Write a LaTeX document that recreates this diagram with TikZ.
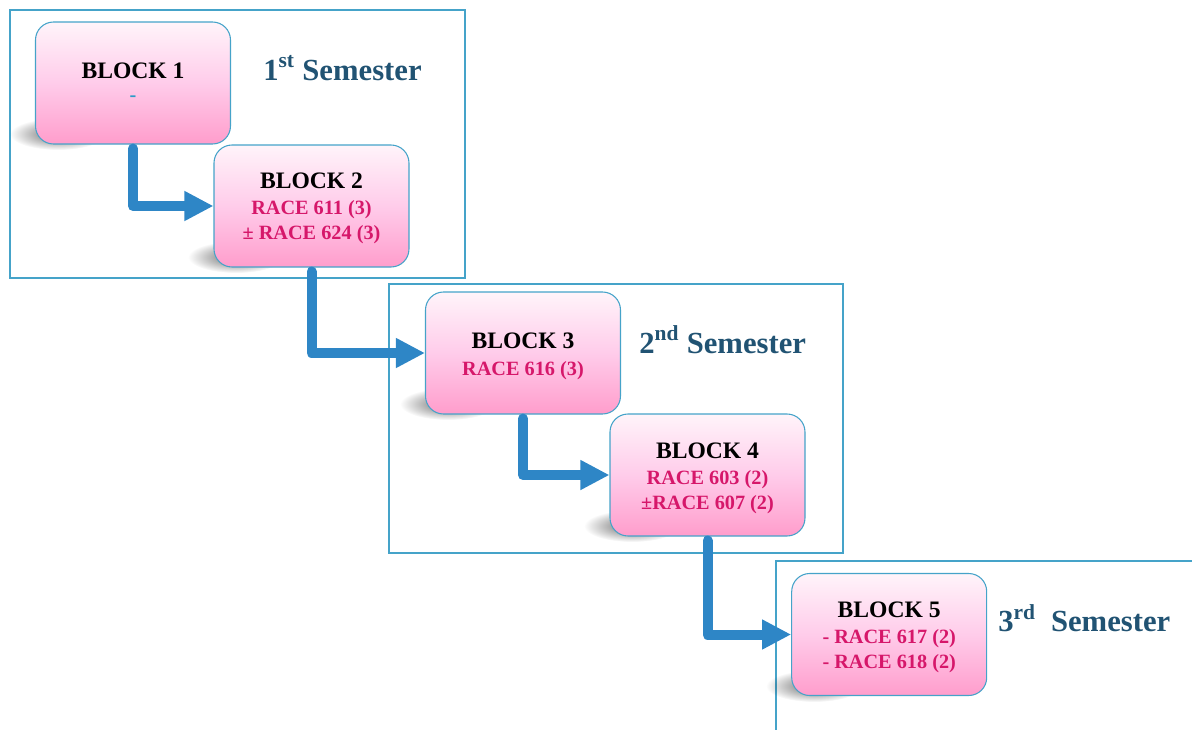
\documentclass[tikz,border=0pt]{standalone}
\usepackage{fontspec}
\setmainfont{Liberation Serif}
\usetikzlibrary{arrows.meta,fadings}
\definecolor{frameblue}{HTML}{45A3C9}
\definecolor{arrowblue}{HTML}{2E86C6}
\definecolor{semblue}{HTML}{215373}
\definecolor{racered}{HTML}{D6176A}
\definecolor{dashblue}{HTML}{2A9BC8}
\definecolor{pinktop}{HTML}{FFF4FA}
\definecolor{pinkmid}{HTML}{FFCCEA}
\definecolor{pinkbot}{HTML}{FF9DCC}
\tikzfading[name=fuzzy, inner color=transparent!0, outer color=transparent!100]
\tikzset{
  frame/.style={draw=frameblue, line width=0.9pt},
  blk/.style={draw=frameblue, line width=0.8pt, rounded corners=13.5pt,
    minimum width=146.25pt, minimum height=91.5pt, inner sep=0pt,
    top color=pinktop, bottom color=pinkbot, middle color=pinkmid},
  title/.style={anchor=base, inner sep=0pt, font=\bfseries\fontsize{17.7}{20}\selectfont},
  course/.style={anchor=base, inner sep=0pt, text=racered, font=\bfseries\fontsize{15.2}{18}\selectfont},
  sem/.style={anchor=base west, inner sep=0pt, text=semblue, font=\bfseries\fontsize{23}{26}\selectfont},
  flow/.style={draw=arrowblue, line width=7.5pt, line join=round, line cap=round,
    -{Triangle[length=21.75pt 0, width=21pt 0]}},
  shade/.style={fill=black, fill opacity=0.6, path fading=fuzzy}
}
\begin{document}
\begin{tikzpicture}[x=0.75pt, y=-0.75pt]
\useasboundingbox (0,0) rectangle (1192,729);
% frames
\draw[frame] (10,10) rectangle (465,278);
\draw[frame] (389,284) rectangle (843,553);
\draw[frame] (776,735) -- (776,561) -- (1198,561);
% shadows
\foreach \sx/\sy in {36/144, 214/267, 426/414, 610/536, 792/696}{
  \fill[shade] (\sx+22,\sy-10) ellipse [x radius=48, y radius=16];
}
% blocks
\node[blk] (b1) at (133,83) {};
\node[blk] (b2) at (311.5,206) {};
\node[blk] (b3) at (523,353) {};
\node[blk] (b4) at (707.5,475) {};
\node[blk] (b5) at (889.2,634.5) {};
% texts
\node[title] (t1) at (133,78.3) {BLOCK 1};
\node[anchor=base, inner sep=0pt, text=dashblue, font=\bfseries\fontsize{15.2}{18}\selectfont] (t1a) at (133,101) {-};
\node[title] (t2) at (311.5,188.3) {BLOCK 2};
\node[course] (t2a) at (311.5,214.3) {RACE 611 (3)};
\node[course] (t2b) at (311.5,239.3) {± RACE 624 (3)};
\node[title] (t3) at (523,348.3) {BLOCK 3};
\node[course] (t3a) at (523,375) {RACE 616 (3)};
\node[title] (t4) at (707.5,458.3) {BLOCK 4};
\node[course] (t4a) at (707.5,484) {RACE 603 (2)};
\node[course] (t4b) at (707.5,509) {±RACE 607 (2)};
\node[title] (t5) at (889.2,617.3) {BLOCK 5};
\node[course] (t5a) at (889.2,643.3) {- RACE 617 (2)};
\node[course] (t5b) at (889.2,668.3) {- RACE 618 (2)};
\node[sem] (s1) at (263,80) {1\textsuperscript{st} Semester};
\node[sem] (s2) at (639,353) {2\textsuperscript{nd} Semester};
\node[sem] (s3) at (998,631.7) {3\textsuperscript{rd}\ \ Semester};
% connectors
\draw[flow] ([yshift=-3pt]b1.south) |- (b2.west);
\draw[flow] ([yshift=-3pt]b2.south) |- (b3.west);
\draw[flow] ([yshift=-3pt]b3.south) |- (b4.west);
\draw[flow] ([yshift=-3pt]b4.south) |- (b5.west);
\end{tikzpicture}
\end{document}
